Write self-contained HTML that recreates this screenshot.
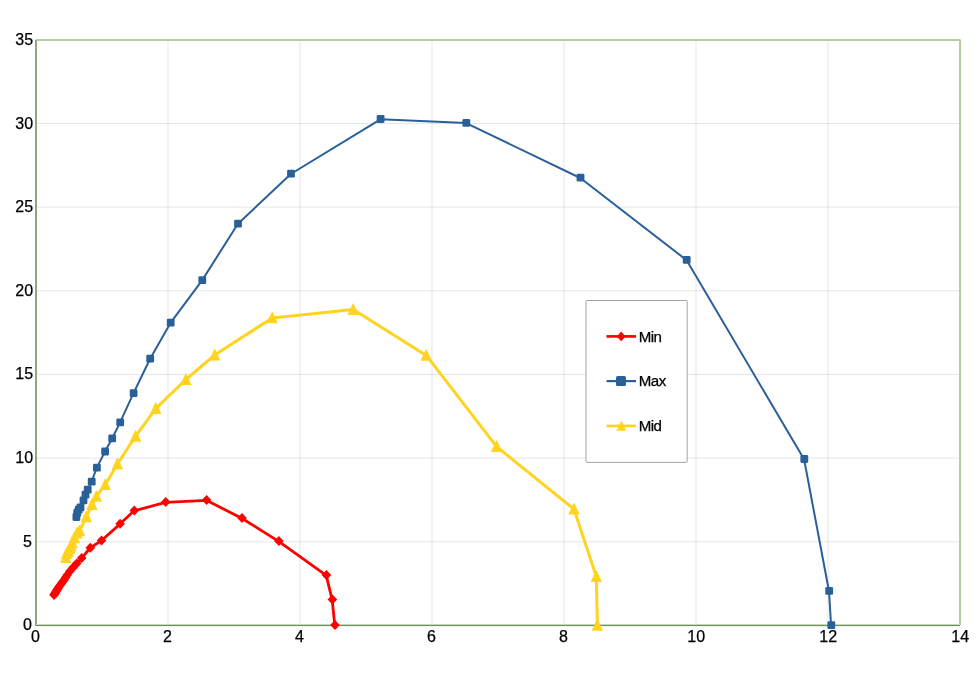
<!DOCTYPE html>
<html lang="en">
<head>
<meta charset="utf-8">
<title>Min / Max / Mid chart</title>
<style>
html,body{margin:0;padding:0;background:#fff;}
body{width:980px;height:673px;overflow:hidden;}
svg{display:block;}
text{font-family:"Liberation Sans",Arial,sans-serif;fill:#000;stroke:#000;stroke-width:0.25px;}
.ax{font-size:16px;}
.lg{font-size:15.1px;letter-spacing:-0.5px;}
</style>
</head>
<body>
<svg width="980" height="673" viewBox="0 0 980 673">
<rect x="0" y="0" width="980" height="673" fill="#ffffff"/>
<g stroke="#000000" stroke-opacity="0.1" stroke-width="1" fill="none"><line x1="168.0" y1="40.0" x2="168.0" y2="625.0"/><line x1="300.0" y1="40.0" x2="300.0" y2="625.0"/><line x1="432.0" y1="40.0" x2="432.0" y2="625.0"/><line x1="564.0" y1="40.0" x2="564.0" y2="625.0"/><line x1="696.0" y1="40.0" x2="696.0" y2="625.0"/><line x1="828.0" y1="40.0" x2="828.0" y2="625.0"/><line x1="36.0" y1="541.83" x2="960.0" y2="541.83"/><line x1="36.0" y1="458.15" x2="960.0" y2="458.15"/><line x1="36.0" y1="374.48" x2="960.0" y2="374.48"/><line x1="36.0" y1="290.80" x2="960.0" y2="290.80"/><line x1="36.0" y1="207.12" x2="960.0" y2="207.12"/><line x1="36.0" y1="123.45" x2="960.0" y2="123.45"/></g>
<path d="M36.0 40.0H960.0V625.0" fill="none" stroke="#b1cea1" stroke-width="2" stroke-linejoin="bevel"/>
<g shape-rendering="crispEdges"><rect x="35" y="40" width="2" height="586" fill="#8ea781"/><rect x="36" y="624" width="924" height="1" fill="#c6d7bd"/><rect x="35" y="625" width="925" height="1" fill="#718f63"/><rect x="36" y="626" width="924" height="1" fill="#f1f5ee"/></g>
<g><polyline points="53.8,595.3 54.2,594.6 54.7,593.8 55.3,592.8 56.0,591.6 56.8,590.3 57.6,589.0 58.4,587.7 59.7,585.8 61.2,583.7 62.5,582.1 63.9,580.4 65.4,577.9 67.0,575.3 69.6,571.6 72.9,567.9 76.5,563.8 81.5,558.4 90.1,548.0 101.3,540.7 119.9,524.1 134.1,510.8 165.5,502.4 206.4,500.3 241.8,518.3 278.7,541.4 326.2,575.4 332.2,599.9 334.8,625.4" fill="none" stroke="#ff0000" stroke-width="2.8" stroke-linejoin="round" stroke-linecap="round"/><path d="M54.0 590.0L58.8 595.0L54.0 600.0L49.2 595.0Z" fill="#ff0000"/><path d="M54.4 589.3L59.2 594.3L54.4 599.3L49.6 594.3Z" fill="#ff0000"/><path d="M54.9 588.5L59.7 593.5L54.9 598.5L50.1 593.5Z" fill="#ff0000"/><path d="M55.5 587.5L60.3 592.5L55.5 597.5L50.7 592.5Z" fill="#ff0000"/><path d="M56.2 586.3L61.0 591.3L56.2 596.3L51.4 591.3Z" fill="#ff0000"/><path d="M57.0 585.0L61.8 590.0L57.0 595.0L52.2 590.0Z" fill="#ff0000"/><path d="M57.8 583.7L62.6 588.7L57.8 593.7L53.0 588.7Z" fill="#ff0000"/><path d="M58.6 582.4L63.4 587.4L58.6 592.4L53.8 587.4Z" fill="#ff0000"/><path d="M59.9 580.5L64.7 585.5L59.9 590.5L55.1 585.5Z" fill="#ff0000"/><path d="M61.4 578.4L66.2 583.4L61.4 588.4L56.6 583.4Z" fill="#ff0000"/><path d="M62.7 576.8L67.5 581.8L62.7 586.8L57.9 581.8Z" fill="#ff0000"/><path d="M64.1 575.1L68.9 580.1L64.1 585.1L59.3 580.1Z" fill="#ff0000"/><path d="M65.6 572.6L70.4 577.6L65.6 582.6L60.8 577.6Z" fill="#ff0000"/><path d="M67.2 570.0L72.0 575.0L67.2 580.0L62.4 575.0Z" fill="#ff0000"/><path d="M69.8 566.3L74.6 571.3L69.8 576.3L65.0 571.3Z" fill="#ff0000"/><path d="M73.1 562.6L77.9 567.6L73.1 572.6L68.3 567.6Z" fill="#ff0000"/><path d="M76.7 558.5L81.5 563.5L76.7 568.5L71.9 563.5Z" fill="#ff0000"/><path d="M81.7 553.1L86.5 558.1L81.7 563.1L76.9 558.1Z" fill="#ff0000"/><path d="M90.3 542.7L95.1 547.7L90.3 552.7L85.5 547.7Z" fill="#ff0000"/><path d="M101.5 535.4L106.3 540.4L101.5 545.4L96.7 540.4Z" fill="#ff0000"/><path d="M120.1 518.8L124.9 523.8L120.1 528.8L115.3 523.8Z" fill="#ff0000"/><path d="M134.3 505.5L139.1 510.5L134.3 515.5L129.5 510.5Z" fill="#ff0000"/><path d="M165.7 497.1L170.5 502.1L165.7 507.1L160.9 502.1Z" fill="#ff0000"/><path d="M206.6 495.0L211.4 500.0L206.6 505.0L201.8 500.0Z" fill="#ff0000"/><path d="M242.0 513.0L246.8 518.0L242.0 523.0L237.2 518.0Z" fill="#ff0000"/><path d="M278.9 536.1L283.7 541.1L278.9 546.1L274.1 541.1Z" fill="#ff0000"/><path d="M326.4 570.1L331.2 575.1L326.4 580.1L321.6 575.1Z" fill="#ff0000"/><path d="M332.4 594.6L337.2 599.6L332.4 604.6L327.6 599.6Z" fill="#ff0000"/><path d="M335.0 620.1L339.8 625.1L335.0 630.1L330.2 625.1Z" fill="#ff0000"/></g>
<g><polyline points="76.2,517.3 77.1,513.0 78.5,510.0 80.3,507.7 83.3,500.7 85.3,495.0 87.5,489.9 91.5,481.9 96.7,467.9 104.9,451.8 112.0,438.7 120.0,422.6 133.4,393.4 150.0,359.0 170.5,322.9 202.1,280.4 237.8,224.0 290.8,174.0 380.4,119.3 466.1,123.1 580.3,178.0 686.5,260.1 804.1,459.3 829.0,591.2 831.1,625.5" fill="none" stroke="#2a6099" stroke-width="2" stroke-linejoin="round" stroke-linecap="round"/><rect x="72.5" y="513.1" width="7.8" height="7.8" rx="1.3" fill="#2a6099"/><rect x="73.4" y="508.8" width="7.8" height="7.8" rx="1.3" fill="#2a6099"/><rect x="74.8" y="505.8" width="7.8" height="7.8" rx="1.3" fill="#2a6099"/><rect x="76.6" y="503.5" width="7.8" height="7.8" rx="1.3" fill="#2a6099"/><rect x="79.6" y="496.5" width="7.8" height="7.8" rx="1.3" fill="#2a6099"/><rect x="81.6" y="490.8" width="7.8" height="7.8" rx="1.3" fill="#2a6099"/><rect x="83.8" y="485.7" width="7.8" height="7.8" rx="1.3" fill="#2a6099"/><rect x="87.8" y="477.7" width="7.8" height="7.8" rx="1.3" fill="#2a6099"/><rect x="93.0" y="463.7" width="7.8" height="7.8" rx="1.3" fill="#2a6099"/><rect x="101.2" y="447.6" width="7.8" height="7.8" rx="1.3" fill="#2a6099"/><rect x="108.3" y="434.5" width="7.8" height="7.8" rx="1.3" fill="#2a6099"/><rect x="116.3" y="418.4" width="7.8" height="7.8" rx="1.3" fill="#2a6099"/><rect x="129.7" y="389.2" width="7.8" height="7.8" rx="1.3" fill="#2a6099"/><rect x="146.3" y="354.8" width="7.8" height="7.8" rx="1.3" fill="#2a6099"/><rect x="166.8" y="318.7" width="7.8" height="7.8" rx="1.3" fill="#2a6099"/><rect x="198.4" y="276.2" width="7.8" height="7.8" rx="1.3" fill="#2a6099"/><rect x="234.1" y="219.8" width="7.8" height="7.8" rx="1.3" fill="#2a6099"/><rect x="287.1" y="169.8" width="7.8" height="7.8" rx="1.3" fill="#2a6099"/><rect x="376.7" y="115.1" width="7.8" height="7.8" rx="1.3" fill="#2a6099"/><rect x="462.4" y="118.9" width="7.8" height="7.8" rx="1.3" fill="#2a6099"/><rect x="576.6" y="173.8" width="7.8" height="7.8" rx="1.3" fill="#2a6099"/><rect x="682.8" y="255.9" width="7.8" height="7.8" rx="1.3" fill="#2a6099"/><rect x="800.4" y="455.1" width="7.8" height="7.8" rx="1.3" fill="#2a6099"/><rect x="825.3" y="587.0" width="7.8" height="7.8" rx="1.3" fill="#2a6099"/><rect x="827.4" y="621.3" width="7.8" height="7.8" rx="1.3" fill="#2a6099"/></g>
<g><polyline points="65.8,557.6 66.6,553.6 68.1,551.3 69.8,548.7 71.0,546.1 72.2,542.8 74.4,537.9 77.0,533.1 79.6,530.9 86.3,516.8 91.9,504.6 96.4,496.4 105.3,484.7 117.4,464.1 135.5,436.3 155.7,408.6 185.9,379.5 214.7,355.0 272.2,317.9 353.2,309.6 426.3,355.4 496.6,446.6 574.0,509.2 596.3,576.6 597.4,625.3" fill="none" stroke="#ffd320" stroke-width="3" stroke-linejoin="round" stroke-linecap="round"/><path d="M65.4 551.6H66.2L71.5 563.0H60.1Z" fill="#ffd320"/><path d="M66.2 547.6H67.0L72.3 559.0H60.9Z" fill="#ffd320"/><path d="M67.7 545.3H68.5L73.8 556.7H62.4Z" fill="#ffd320"/><path d="M69.4 542.7H70.2L75.5 554.1H64.1Z" fill="#ffd320"/><path d="M70.6 540.1H71.4L76.7 551.5H65.3Z" fill="#ffd320"/><path d="M71.8 536.8H72.6L77.9 548.2H66.5Z" fill="#ffd320"/><path d="M74.0 531.9H74.8L80.1 543.3H68.7Z" fill="#ffd320"/><path d="M76.6 527.1H77.4L82.7 538.5H71.3Z" fill="#ffd320"/><path d="M79.2 524.9H80.0L85.3 536.3H73.9Z" fill="#ffd320"/><path d="M85.9 510.8H86.7L92.0 522.2H80.6Z" fill="#ffd320"/><path d="M91.5 498.6H92.3L97.6 510.0H86.2Z" fill="#ffd320"/><path d="M96.0 490.4H96.8L102.1 501.8H90.7Z" fill="#ffd320"/><path d="M104.9 478.7H105.7L111.0 490.1H99.6Z" fill="#ffd320"/><path d="M117.0 458.1H117.8L123.1 469.5H111.7Z" fill="#ffd320"/><path d="M135.1 430.3H135.9L141.2 441.7H129.8Z" fill="#ffd320"/><path d="M155.3 402.6H156.1L161.4 414.0H150.0Z" fill="#ffd320"/><path d="M185.5 373.5H186.3L191.6 384.9H180.2Z" fill="#ffd320"/><path d="M214.3 349.0H215.1L220.4 360.4H209.0Z" fill="#ffd320"/><path d="M271.8 311.9H272.6L277.9 323.3H266.5Z" fill="#ffd320"/><path d="M352.8 303.6H353.6L358.9 315.0H347.5Z" fill="#ffd320"/><path d="M425.9 349.4H426.7L432.0 360.8H420.6Z" fill="#ffd320"/><path d="M496.2 440.6H497.0L502.3 452.0H490.9Z" fill="#ffd320"/><path d="M573.6 503.2H574.4L579.7 514.6H568.3Z" fill="#ffd320"/><path d="M595.9 570.6H596.7L602.0 582.0H590.6Z" fill="#ffd320"/><path d="M597.0 619.3H597.8L603.1 630.7H591.7Z" fill="#ffd320"/></g>
<g><text class="ax" x="31.9" y="630" text-anchor="end">0</text><text class="ax" x="31.9" y="547" text-anchor="end">5</text><text class="ax" x="33.1" y="463" text-anchor="end">10</text><text class="ax" x="33.1" y="379" text-anchor="end">15</text><text class="ax" x="33.1" y="296" text-anchor="end">20</text><text class="ax" x="33.1" y="212" text-anchor="end">25</text><text class="ax" x="33.1" y="129" text-anchor="end">30</text><text class="ax" x="33.1" y="45" text-anchor="end">35</text></g>
<g><text class="ax" x="35.4" y="642" text-anchor="middle">0</text><text class="ax" x="167.4" y="642" text-anchor="middle">2</text><text class="ax" x="299.4" y="642" text-anchor="middle">4</text><text class="ax" x="431.4" y="642" text-anchor="middle">6</text><text class="ax" x="563.4" y="642" text-anchor="middle">8</text><text class="ax" x="696.2" y="642" text-anchor="middle">10</text><text class="ax" x="828.2" y="642" text-anchor="middle">12</text><text class="ax" x="960.2" y="642" text-anchor="middle">14</text></g>
<g>
<rect x="586" y="300.5" width="101.2" height="161.9" rx="0.8" fill="#ffffff" stroke="#a4a4a4" stroke-width="1"/>
<line x1="606.5" y1="336.4" x2="636" y2="336.4" stroke="#ff0000" stroke-width="2.7"/>
<path d="M621.2 331.5L625.6 336.4L621.2 341.3L616.8 336.4Z" fill="#ff0000"/>
<text class="lg" x="638.7" y="341.9">Min</text>
<line x1="606.5" y1="381.1" x2="636" y2="381.1" stroke="#2a6099" stroke-width="2.2"/>
<rect x="616.0" y="376.1" width="10.0" height="10.0" rx="1.6" fill="#2a6099"/>
<text class="lg" x="638.7" y="386.0">Max</text>
<line x1="606.5" y1="425.9" x2="636" y2="425.9" stroke="#ffd320" stroke-width="2.7"/>
<path d="M620.9 421.3H621.7L626.1 430.8H616.5Z" fill="#ffd320"/>
<text class="lg" x="638.7" y="431.0">Mid</text>
</g>
</svg>
</body>
</html>
